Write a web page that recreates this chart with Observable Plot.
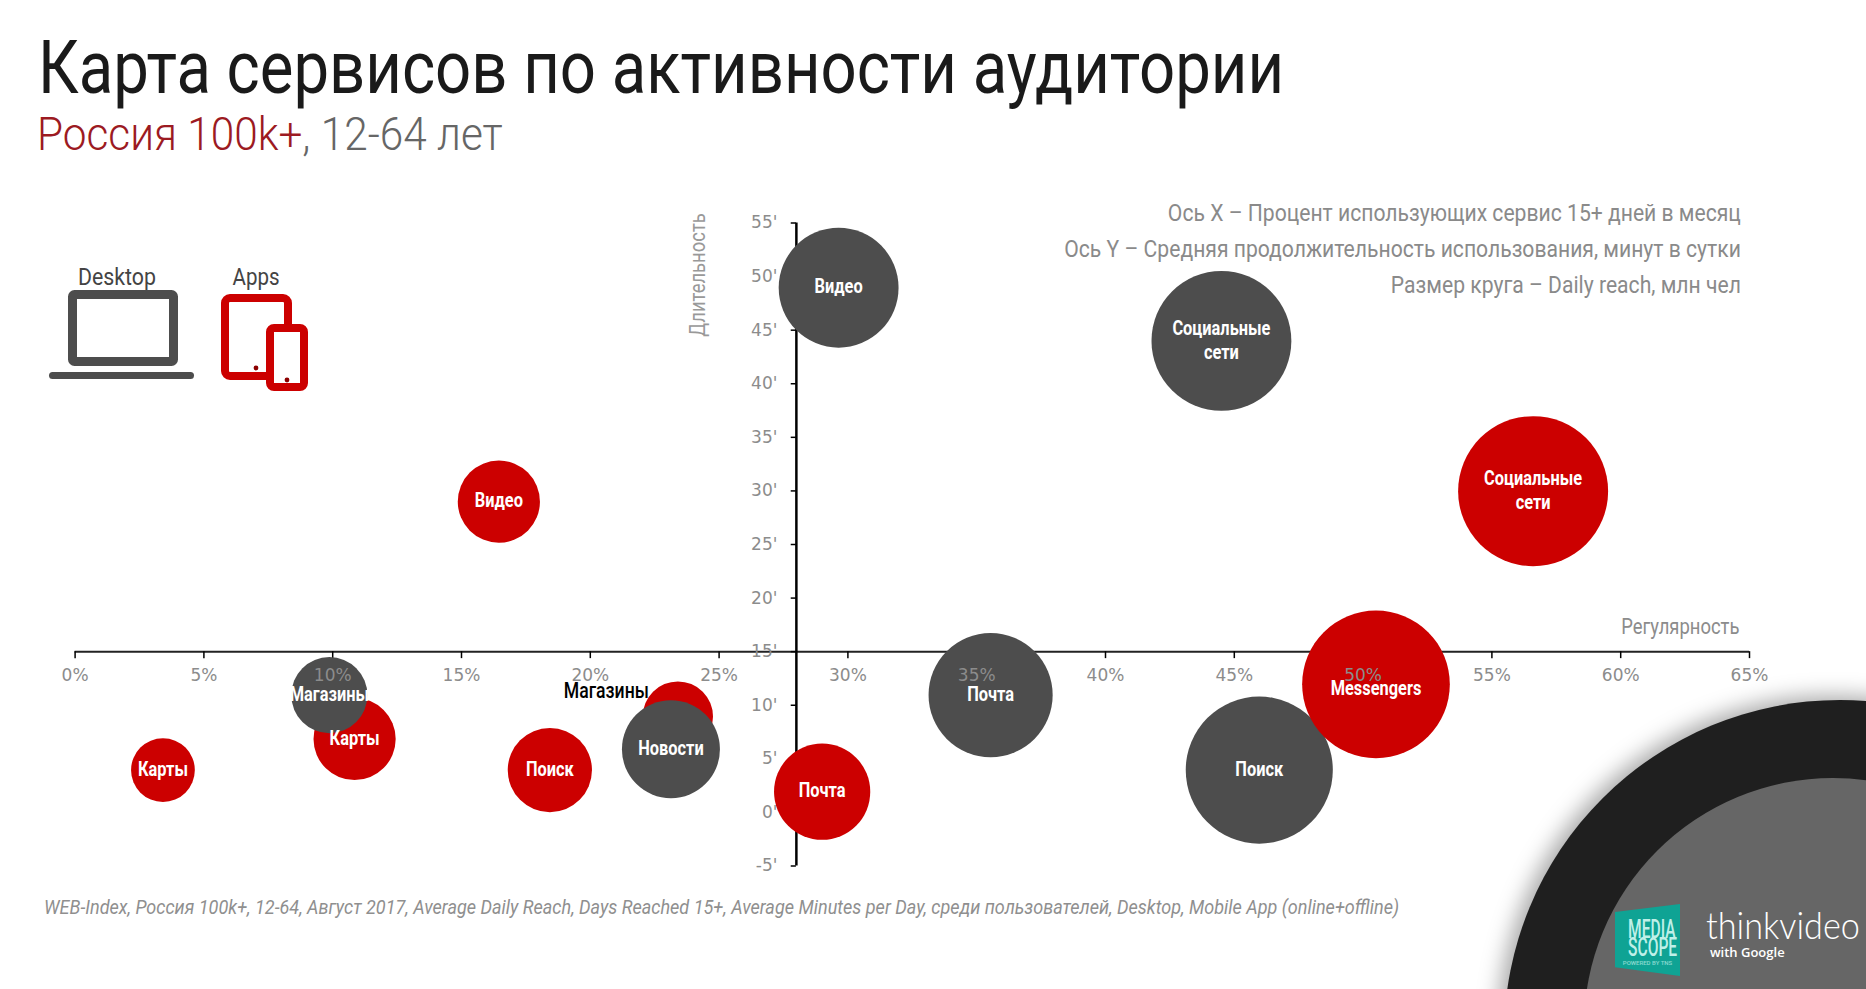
<!DOCTYPE html>
<html lang="ru">
<head>
<meta charset="utf-8">
<script src="https://cdn.jsdelivr.net/npm/d3@7"></script>
<script src="https://cdn.jsdelivr.net/npm/@observablehq/plot@0.6"></script>
<style>
html,body{margin:0;padding:0;background:#fff;width:1866px;height:989px;overflow:hidden}
body{position:relative;font-family:Roboto,sans-serif}
.abs{position:absolute;white-space:nowrap}
#title{left:38px;top:26px;font-size:74px;line-height:84px;color:#1a1a1a;margin:0;font-weight:400;transform:scaleX(.857);transform-origin:left}
#sub{left:37px;top:108px;font-size:46px;line-height:52px;color:#666;font-weight:300;margin:0;transform:scaleX(.92);transform-origin:left}
#sub b{font-weight:300;color:#9c1a22}
#chart{position:absolute;left:0;top:170px}
#notes{right:125px;top:195px;text-align:right;font-size:24px;line-height:36.2px;color:#8a8a8a;transform:scaleX(.88);transform-origin:right}
#caption{left:44px;top:895px;font:italic 20px Roboto,sans-serif;color:#8f8f8f;transform:scaleX(.9025);transform-origin:left}
.corner{position:absolute;border-radius:50%}
#outer{left:1504px;top:700px;width:672px;height:672px;background:#1f1f1f;box-shadow:-6px -4px 22px rgba(0,0,0,.35)}
#inner{left:1584px;top:778px;width:498px;height:498px;background:#666}
#mediascope{left:1615px;top:904px;width:65px;height:72px;background:#0fa394;clip-path:polygon(0 11%,100% 0,100% 100%,0 88%)}
.ms{position:absolute;left:0;width:65px;text-align:center;color:#bff0e8;font:500 26px/17px Roboto,sans-serif;transform:scaleX(.6)}
#think{left:1706px;top:907px;font:300 37px/36px Lato,"Open Sans",sans-serif;color:#fff;transform:scaleX(.925);transform-origin:left}
#google{left:1710px;top:944px;font:600 13px/16px "Open Sans",sans-serif;color:#fff}
</style>
</head>
<body>
<div class="corner" id="outer"></div>
<div class="corner" id="inner"></div>
<div class="abs" id="mediascope">
  <div class="ms" style="top:17px">MEDIA</div>
  <div class="ms" style="top:35px">SCOPE</div>
  <div class="ms" style="top:55px;font-size:6px;line-height:7px;transform:none;opacity:.7">POWERED BY TNS</div>
</div>
<div class="abs" id="think">thinkvideo</div>
<div class="abs" id="google">with Google</div>

<h1 class="abs" id="title">Карта сервисов по активности аудитории</h1>
<h2 class="abs" id="sub"><b>Россия 100k+</b>, 12-64 лет</h2>

<div id="chart"></div>

<div class="abs" id="notes">Ось X – Процент использующих сервис 15+ дней в месяц<br>Ось Y – Средняя продолжительность использования, минут в сутки<br>Размер круга – Daily reach, млн чел</div>

<svg class="abs" style="left:40px;top:255px" width="290" height="145" viewBox="40 255 290 145">
  <rect x="72.5" y="294.5" width="101" height="67" rx="2" fill="#fff" stroke="#4d4d4d" stroke-width="9"/>
  <rect x="49" y="372" width="145" height="7" rx="3.5" fill="#4d4d4d"/>
  <rect x="225" y="298" width="63" height="78" rx="5" fill="#fff" stroke="#cc0000" stroke-width="8"/>
  <circle cx="256" cy="368" r="2.4" fill="#8c0000"/>
  <rect x="270" y="328" width="34" height="59" rx="4" fill="#fff" stroke="#cc0000" stroke-width="8"/>
  <circle cx="287" cy="380" r="2.4" fill="#8c0000"/>
  <text x="117" y="285" text-anchor="middle" font-size="24" fill="#444" font-family="Roboto" textLength="78" lengthAdjust="spacingAndGlyphs">Desktop</text>
  <text x="256" y="285" text-anchor="middle" font-size="24" fill="#444" font-family="Roboto" textLength="47" lengthAdjust="spacingAndGlyphs">Apps</text>
</svg>

<div class="abs" id="caption">WEB-Index, Россия 100k+, 12-64, Август 2017, Average Daily Reach, Days Reached 15+, Average Minutes per Day, среди пользователей, Desktop, Mobile App (online+offline)</div>

<script>
// Values; series listed in back-to-front order
const names    = ["Поиск","Почта","Социальные\nсети","Видео","Карты","Видео","Поиск","Почта","Социальные\nсети","Messengers","Карты","Магазины","Магазины","Новости"];
const regular  = [45.97,35.54,44.5,29.64,3.41,16.45,18.43,29.0,56.6,50.5,10.85,23.4,9.87,23.13];
const minutes  = [3.95,10.95,44.0,48.96,3.95,29.0,3.95,1.93,29.98,11.95,6.85,8.95,10.95,5.9];
const reach    = [25,17.8,22.6,16.6,4.7,7.8,8.2,10.7,26,25.2,7.8,5.7,6.7,11.1];
const platform = ["Desktop","Desktop","Desktop","Desktop","Apps","Apps","Apps","Apps","Apps","Apps","Apps","Apps","Desktop","Desktop"];
const xTicks = [0,5,10,15,20,25,30,35,40,45,50,55,60,65];
const yTicks = [-5,0,5,10,15,20,25,30,35,40,45,50,55];
const xCross = 28, yCross = 15;

const services = names.map((name,i)=>({name,x:regular[i],y:minutes[i],r:reach[i],platform:platform[i]}));
const isBlack = d=>d.name==="Магазины"&&d.platform==="Apps";
const isShifted = d=>d.name==="Messengers";
const white = services.filter(d=>!isBlack(d)&&!isShifted(d));
const shifted = services.filter(isShifted);
const black = services.filter(isBlack);
const label = {fill:"#fff",fontSize:20,lineHeight:1.2,fontWeight:700,fontFamily:"Roboto",className:"narrow"};

const plot = Plot.plot({
  width:1866, height:720,
  marginTop:0, marginRight:0, marginBottom:0, marginLeft:0,
  style:{background:"transparent",overflow:"visible"},
  x:{domain:[0,65],range:[74.6,1749],axis:null},
  y:{domain:[-5,55],range:[695.5,52.5],axis:null},
  r:{type:"sqrt",domain:[0,26],range:[0,75]},
  color:{domain:["Desktop","Apps"],range:["#4d4d4d","#cc0000"]},
  marks:[
    Plot.ruleY([yCross],{x1:0,x2:65,stroke:"#222",strokeWidth:2}),
    Plot.ruleX([xCross],{y1:-5,y2:55,stroke:"#000",strokeWidth:2.5}),
    Plot.ruleX(xTicks,{y1:yCross,y2:yCross-0.65,stroke:"#000",strokeWidth:1.5}),
    Plot.ruleY(yTicks,{x1:xCross,x2:xCross-0.2,stroke:"#000",strokeWidth:1.5}),
    Plot.text(yTicks,{x:xCross,y:d=>d,text:d=>d+"'",dx:-19,textAnchor:"end",fill:"#8c8c8c",fontSize:17,fontFamily:"DejaVu Sans"}),
    Plot.dot(services,{x:"x",y:"y",r:"r",fill:"platform",sort:null}),
    Plot.text(xTicks,{x:d=>d,y:yCross,text:d=>d+"%",dy:24,fill:"#8c8c8c",fontSize:17,fontFamily:"DejaVu Sans"}),
    Plot.text(white,{x:"x",y:"y",text:"name",dy:-2,...label}),
    Plot.text(shifted,{x:"x",y:"y",text:"name",dy:3,...label}),
    Plot.text(black,{x:"x",y:"y",text:"name",fill:"#000",fontSize:21.5,fontWeight:500,dx:-29,dy:-25,textAnchor:"end",fontFamily:"Roboto",className:"narrow"}),
    Plot.text(["Длительность"],{x:xCross,y:55,rotate:-90,dx:-99,dy:52,textAnchor:"middle",fill:"#999",fontSize:22.5,fontFamily:"Roboto",className:"narrow"}),
    Plot.text(["Регулярность"],{x:65,y:yCross,dx:-10,dy:-25,textAnchor:"end",fill:"#8c8c8c",fontSize:22.5,fontFamily:"Roboto",className:"narrow"})
  ]
});
// Roboto is the only close face installed; narrow it to the reference's condensed setting
d3.select(plot).selectAll(".narrow text").attr("transform",function(){
  return (this.getAttribute("transform")||"")+" scale(.82,1)";
});
document.getElementById("chart").append(plot);
</script>
</body>
</html>
